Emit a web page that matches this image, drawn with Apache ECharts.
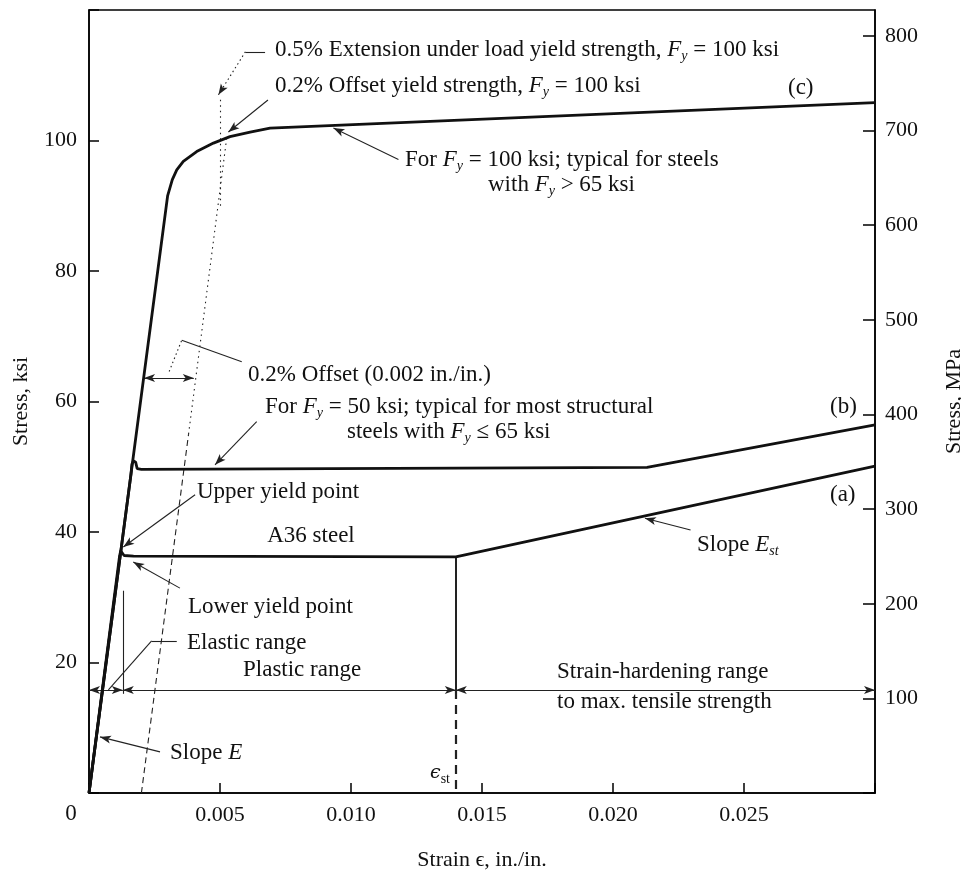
<!DOCTYPE html>
<html>
<head>
<meta charset="utf-8">
<script src="https://cdn.jsdelivr.net/npm/echarts@6/dist/echarts.min.js"></script>
<style>
html,body{margin:0;padding:0;background:#fff;}
#chart{width:961px;height:872px;}
</style>
</head>
<body>
<div id="chart"></div>
<script>
// ---- data (strain in./in., stress ksi) ----
const xTicks = [0.005, 0.010, 0.015, 0.020, 0.025];
const yTicksKsi = [20, 40, 60, 80, 100];
const yTicksMPa = [100, 200, 300, 400, 500, 600, 700, 800];

const curveA36 = [[0,0],[0.00117,36.4],[0.00121,37.1],[0.00127,36.9],[0.00134,36.4],[0.0017,36.3],[0.0140,36.2],[0.0300,50.1]];
const curveB50 = [[0,0],[0.00160,48.8],[0.00164,50.4],[0.00170,50.9],[0.00178,50.7],[0.00184,49.7],[0.0020,49.6],[0.0213,49.9],[0.0300,56.4]];
const curveC100 = [[0,0],[0.00300,91.5],[0.00318,94.0],[0.00335,95.5],[0.00360,96.8],[0.00411,98.3],[0.00475,99.6],[0.00538,100.6],[0.00615,101.3],[0.00691,101.9],[0.0300,105.8]];

const offsetLineDashed = [[0.0020,0],[0.0038,55]];
const offsetLineDotted = [[0.0038,55],[0.00525,100.2]];
const extensionLine = [[0.0050,90],[0.0050,106.5]];
const epsST = 0.0140;
const elasticLimit = 0.00129;
const rangeLevel = 15.8;

// ---- annotation geometry (data units) ----
const leaders = [
  {p:[[0.00672,113.6],[0.00597,113.6]], t:'solid'},
  {p:[[0.00597,113.6],[0.00494,107.0]], t:'dotted', end:true},
  {p:[[0.00683,106.2],[0.00532,101.3]], t:'solid', end:true},
  {p:[[0.01181,97.1],[0.00933,101.9]], t:'solid', end:true},
  {p:[[0.00306,64.6],[0.00354,69.4]], t:'dotted'},
  {p:[[0.00354,69.4],[0.00583,66.1]], t:'solid'},
  {p:[[0.00210,63.6],[0.00400,63.6]], t:'solid', end:true, start:true},
  {p:[[0.0064,56.9],[0.00481,50.3]], t:'solid', end:true},
  {p:[[0.00405,45.7],[0.00131,37.7]], t:'solid', end:true},
  {p:[[0.00347,31.4],[0.00169,35.4]], t:'solid', end:true},
  {p:[[0.02296,40.3],[0.02122,42.1]], t:'solid', end:true},
  {p:[[0.00335,23.3],[0.00239,23.3]], t:'solid'},
  {p:[[0.00239,23.3],[0.00074,15.8]], t:'solid'},
  {p:[[0.00271,6.3],[0.00042,8.6]], t:'solid', end:true},
  {p:[[0,rangeLevel],[elasticLimit,rangeLevel]], t:'solid', end:true, start:true},
  {p:[[elasticLimit,rangeLevel],[epsST,rangeLevel]], t:'solid', end:true, start:true},
  {p:[[epsST,rangeLevel],[0.0300,rangeLevel]], t:'solid', end:true, start:true},
  {p:[[elasticLimit,31],[elasticLimit,15.2]], t:'solid'},
  {p:[[epsST,36.2],[epsST,rangeLevel]], t:'solid', w:2},
  {p:[[epsST,rangeLevel],[epsST,0]], t:[9,6], w:2.2},
  {p:extensionLine, t:[1.5,4]},
  {p:offsetLineDashed, t:[6,4]},
  {p:offsetLineDotted, t:[1.5,4]}
];

const FONT = '"Liberation Serif","Times New Roman",serif';
const FS = 23;
const FT = 22;
const INK = '#111';

const markData = leaders.map(l => {
  const dash = l.t === 'dotted' ? [1.5,3] : l.t;
  return [
    {coord:l.p[0], symbol: l.start ? 'arrow' : 'none', symbolSize:[6,11],
     lineStyle:{type:dash, width:l.w||1.1, color:'#222'}},
    {coord:l.p[1], symbol: l.end ? 'arrow' : 'none', symbolSize:[6,11]}
  ];
});

const rich = {
  i:{fontStyle:'italic', fontFamily:FONT, fontSize:FS, lineHeight:26, fill:INK, color:INK},
  s:{fontStyle:'italic', fontFamily:FONT, fontSize:14, lineHeight:9, verticalAlign:'bottom', fill:INK, color:INK},
  n:{fontFamily:FONT, fontSize:14, lineHeight:9, verticalAlign:'bottom', fill:INK, color:INK},
  e:{fontFamily:'"DejaVu Serif",serif', fontStyle:'italic', fontSize:19, lineHeight:26, fill:INK, color:INK}
};

function txt(x, y, text, align) {
  return {type:'text', x:x, y:y, silent:true, z:100,
    style:{text:text, fontFamily:FONT, fontSize:FS, lineHeight:26, fill:INK,
      align:align||'left', verticalAlign:'middle', textAlign:align||'left', textVerticalAlign:'middle', rich:rich}};
}

const texts = [
  txt(275, 50, '0.5% Extension under load yield strength, {i|F}{s|y} = 100 ksi'),
  txt(275, 86, '0.2% Offset yield strength, {i|F}{s|y} = 100 ksi'),
  txt(788, 88, '(c)'),
  txt(405, 160, 'For {i|F}{s|y} = 100 ksi; typical for steels'),
  txt(488, 185, 'with {i|F}{s|y} > 65 ksi'),
  txt(248, 375, '0.2% Offset (0.002 in./in.)'),
  txt(265, 407, 'For {i|F}{s|y} = 50 ksi; typical for most structural'),
  txt(347, 432, 'steels with {i|F}{s|y} ≤ 65 ksi'),
  txt(830, 407, '(b)'),
  txt(197, 492, 'Upper yield point'),
  txt(830, 495, '(a)'),
  txt(311, 536, 'A36 steel', 'center'),
  txt(697, 545, 'Slope {i|E}{s|st}'),
  txt(188, 607, 'Lower yield point'),
  txt(187, 643, 'Elastic range'),
  txt(243, 670, 'Plastic range'),
  txt(557, 672, 'Strain-hardening range'),
  txt(557, 702, 'to max. tensile strength'),
  txt(170, 753, 'Slope {i|E}'),
  txt(430, 773, '{e|ϵ}{n|st}'),
  txt(71, 814, '0', 'center')
];

const curveStyle = {color:INK, width:2.8};
const axisLineStyle = {color:'#000', width:1.5};

const chart = echarts.init(document.getElementById('chart'), null, {renderer:'canvas'});
chart.setOption({
  animation:false,
  backgroundColor:'#fff',
  textStyle:{fontFamily:FONT},
  grid:{left:89, right:86, top:10, bottom:79, show:true, borderColor:'#000', borderWidth:1.5,
        containLabel:false, outerBoundsMode:'none'},
  xAxis:{
    type:'value', min:0, max:0.03, interval:0.005,
    name:'Strain ϵ, in./in.', nameLocation:'middle', nameGap:56,
    nameTextStyle:{fontFamily:FONT, fontSize:FT, color:INK},
    axisLine:{show:true, lineStyle:axisLineStyle},
    axisTick:{show:true, inside:true, length:10, lineStyle:{color:'#000', width:1.5}},
    axisLabel:{margin:11, fontFamily:FONT, fontSize:FT, color:INK,
      formatter:v => { const t = xTicks.find(k => Math.abs(k - v) < 1e-9); return t === undefined ? '' : t.toFixed(3); }},
    splitLine:{show:false}
  },
  yAxis:[{
    type:'value', min:0, max:120, interval:20, position:'left',
    name:'Stress, ksi', nameLocation:'middle', nameGap:57, nameRotate:90,
    nameTextStyle:{fontFamily:FONT, fontSize:FT, color:INK},
    axisLine:{show:true, lineStyle:axisLineStyle},
    axisTick:{show:true, inside:true, length:10, lineStyle:{color:'#000', width:1.5}},
    axisLabel:{margin:12, fontFamily:FONT, fontSize:FT, color:INK,
      formatter:v => yTicksKsi.indexOf(v) >= 0 ? String(v) : ''},
    splitLine:{show:false}
  },{
    type:'value', min:0, max:120*6.895, interval:100, position:'right',
    name:'Stress, MPa', nameLocation:'middle', nameGap:68, nameRotate:90,
    nameTextStyle:{fontFamily:FONT, fontSize:FT, color:INK},
    axisLine:{show:true, lineStyle:axisLineStyle},
    axisTick:{show:true, inside:true, length:12, lineStyle:{color:'#000', width:1.5}},
    axisLabel:{margin:10, fontFamily:FONT, fontSize:FT, color:INK, showMaxLabel:false,
      formatter:v => yTicksMPa.indexOf(Math.round(v)) >= 0 && Math.abs(v - Math.round(v)) < 1e-6 ? String(Math.round(v)) : ''},
    splitLine:{show:false}
  }],
  series:[
    {type:'line', name:'A36', data:curveA36, symbol:'none', lineStyle:curveStyle, z:5},
    {type:'line', name:'Fy50', data:curveB50, symbol:'none', lineStyle:curveStyle, z:5},
    {type:'line', name:'Fy100', data:curveC100, symbol:'none', lineStyle:curveStyle, z:5},
    {type:'line', name:'annotations', data:[[0,0]], symbol:'none', lineStyle:{opacity:0}, z:3,
     markLine:{silent:true, animation:false, symbol:['none','none'],
       label:{show:false}, emphasis:{disabled:true},
       itemStyle:{color:'#222'},
       lineStyle:{color:'#222', width:1.1, type:'solid'},
       data:markData}}
  ],
  graphic:texts
});
</script>
</body>
</html>
